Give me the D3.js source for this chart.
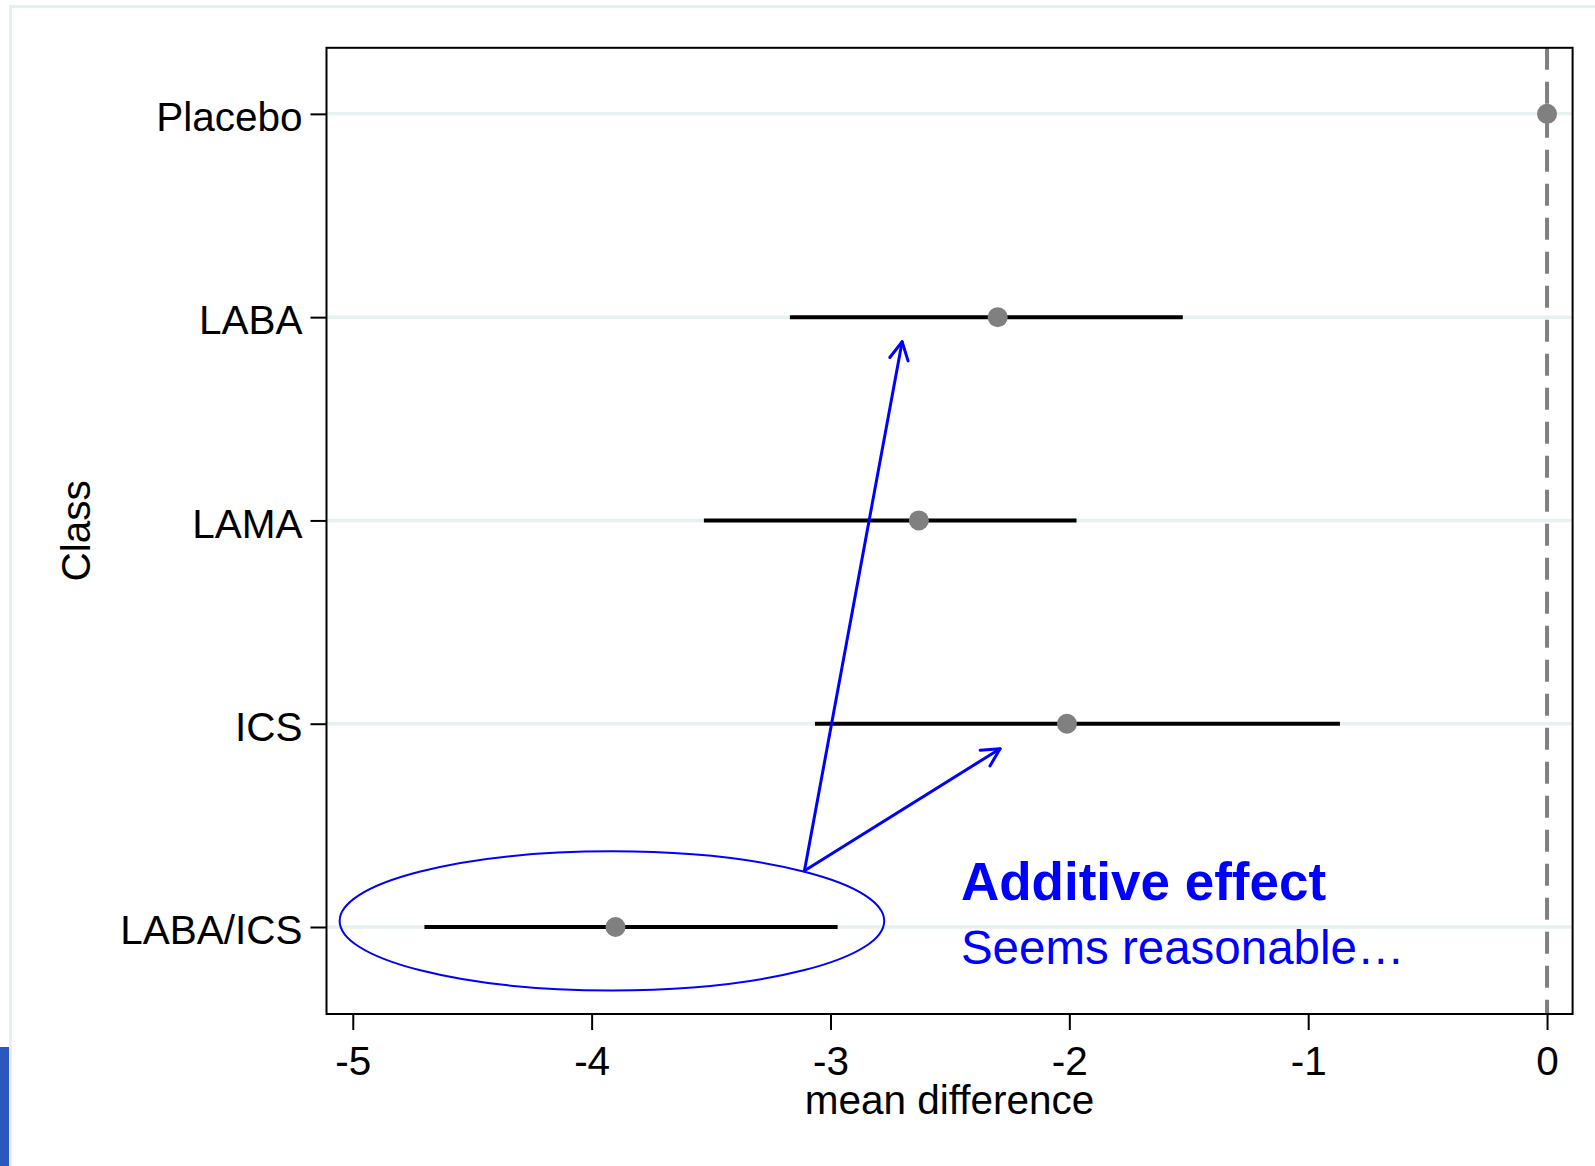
<!DOCTYPE html>
<html>
<head>
<meta charset="utf-8">
<script src="https://cdn.jsdelivr.net/npm/d3@7"></script>
<style>
  html, body { margin: 0; padding: 0; background: #fff; }
  svg { display: block; font-family: "Liberation Sans", Arial, sans-serif; }
</style>
</head>
<body>
<script>
// ---- data ----
const categories = ["Placebo", "LABA", "LAMA", "ICS", "LABA/ICS"];
const catPositions = [5, 4, 3, 2, 1];
const estimates = [0, -2.30, -2.63, -2.01, -3.90];
const ciLower = [null, -3.17, -3.53, -3.065, -4.70];
const ciUpper = [null, -1.525, -1.97, -0.867, -2.97];
const xTicks = [-5, -4, -3, -2, -1, 0];
const xTickLabels = ["-5", "-4", "-3", "-2", "-1", "0"];
const xDomain = [-5.11, 0.107];
const yDomain = [0.572, 5.325];
const xTitle = "mean difference";
const yTitle = "Class";
// annotation (data coordinates)
const ellipse = { cx: -3.915, cy: 1.03, rx: 1.14, ry: 0.342 };
const arrowStart = [-3.109, 1.277];
const arrowEnds = [[-2.70, 3.879], [-2.29, 1.877]];
const noteTitle = "Additive effect";
const noteText = "Seems reasonable…";
const notePos = [-2.454, 1.13];

// ---- layout ----
const W = 1595, H = 1166;
const plot = { left: 326.5, right: 1572.6, top: 47.8, bottom: 1014 };
const FONT = 40.5;

const svg = d3.select("body").append("svg").attr("width", W).attr("height", H);

// outer graph-region border (light)
svg.append("rect").attr("x", 10.5).attr("y", 6.5).attr("width", W + 20).attr("height", H + 20)
  .attr("fill", "none").attr("stroke", "#E6EFF1").attr("stroke-width", 3);
// blue slide artifact at bottom-left
svg.append("rect").attr("x", 0).attr("y", 1047).attr("width", 9).attr("height", H - 1047).attr("fill", "#2B57BE");

const x = d3.scaleLinear().domain(xDomain).range([plot.left, plot.right]);
const y = d3.scaleLinear().domain(yDomain).range([plot.bottom, plot.top]);

// gridlines
svg.append("g").selectAll("line").data(catPositions).join("line")
  .attr("x1", plot.left).attr("x2", plot.right)
  .attr("y1", d => y(d)).attr("y2", d => y(d))
  .attr("stroke", "#E8F1F2").attr("stroke-width", 3.5);

// reference dashed line at 0
svg.append("line").attr("x1", x(0)).attr("x2", x(0)).attr("y1", plot.top).attr("y2", plot.bottom)
  .attr("stroke", "#808080").attr("stroke-width", 4).attr("stroke-dasharray", "22,12");

// axes
const yAxis = d3.axisLeft(y).tickValues(catPositions)
  .tickFormat((d, i) => categories[i]).tickSize(16).tickPadding(8);
const gy = svg.append("g").attr("transform", `translate(${plot.left},0)`).call(yAxis);
gy.select(".domain").remove();
gy.selectAll("line").attr("stroke", "#000").attr("stroke-width", 2);
gy.selectAll("text").attr("font-size", FONT).attr("fill", "#000")
  .attr("font-family", "'Liberation Sans', Arial, sans-serif").attr("dy", "0.41em");

const xAxis = d3.axisBottom(x).tickValues(xTicks)
  .tickFormat((d, i) => xTickLabels[i]).tickSize(16).tickPadding(16);
const gx = svg.append("g").attr("transform", `translate(0,${plot.bottom})`).call(xAxis);
gx.select(".domain").remove();
gx.selectAll("line").attr("stroke", "#000").attr("stroke-width", 2);
gx.selectAll("text").attr("font-size", FONT).attr("fill", "#000")
  .attr("font-family", "'Liberation Sans', Arial, sans-serif");

// plot frame
svg.append("rect").attr("x", plot.left).attr("y", plot.top)
  .attr("width", plot.right - plot.left).attr("height", plot.bottom - plot.top)
  .attr("fill", "none").attr("stroke", "#000").attr("stroke-width", 2);

// axis titles
svg.append("text").attr("x", (plot.left + plot.right) / 2).attr("y", 1114)
  .attr("text-anchor", "middle").attr("font-size", FONT).text(xTitle);
svg.append("text").attr("transform", `translate(90,${(plot.top + plot.bottom) / 2}) rotate(-90)`)
  .attr("text-anchor", "middle").attr("font-size", FONT).text(yTitle);

// CI lines
const rows = categories.map((c, i) => ({ c, pos: catPositions[i], est: estimates[i], lo: ciLower[i], hi: ciUpper[i] }));
svg.append("g").selectAll("line").data(rows.filter(r => r.lo !== null)).join("line")
  .attr("x1", d => x(d.lo)).attr("x2", d => x(d.hi))
  .attr("y1", d => y(d.pos)).attr("y2", d => y(d.pos))
  .attr("stroke", "#000").attr("stroke-width", 4);
// points
svg.append("g").selectAll("circle").data(rows).join("circle")
  .attr("cx", d => x(d.est)).attr("cy", d => y(d.pos)).attr("r", 10)
  .attr("fill", "#808080");

// annotation ellipse
svg.append("ellipse")
  .attr("cx", x(ellipse.cx)).attr("cy", y(ellipse.cy))
  .attr("rx", x(ellipse.cx + ellipse.rx) - x(ellipse.cx))
  .attr("ry", y(ellipse.cy) - y(ellipse.cy + ellipse.ry))
  .attr("fill", "none").attr("stroke", "#0000FF").attr("stroke-width", 2);

// arrows
const ann = svg.append("g").attr("stroke", "#0000FF").attr("stroke-width", 3)
  .attr("fill", "none").attr("stroke-linecap", "round").attr("stroke-linejoin", "round");
arrowEnds.forEach(e => {
  const x0 = x(arrowStart[0]), y0 = y(arrowStart[1]);
  const x1 = x(e[0]), y1 = y(e[1]);
  ann.append("line").attr("x1", x0).attr("y1", y0).attr("x2", x1).attr("y2", y1);
  const ang = Math.atan2(y1 - y0, x1 - x0);
  const L = 20, a = Math.PI / 6.5;
  const p1 = [x1 - L * Math.cos(ang - a), y1 - L * Math.sin(ang - a)];
  const p2 = [x1 - L * Math.cos(ang + a), y1 - L * Math.sin(ang + a)];
  ann.append("path").attr("d", `M${p1[0]},${p1[1]}L${x1},${y1}L${p2[0]},${p2[1]}`);
});

// note text
svg.append("text").attr("x", x(notePos[0])).attr("y", 900)
  .attr("font-size", 53).attr("font-weight", "bold").attr("fill", "#0000FF").text(noteTitle);
svg.append("text").attr("x", x(notePos[0])).attr("y", 964)
  .attr("font-size", 47.5).attr("fill", "#0000FF").text(noteText);
</script>
</body>
</html>
